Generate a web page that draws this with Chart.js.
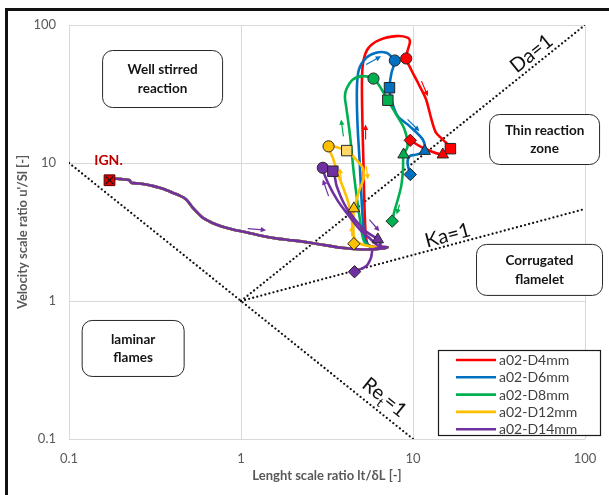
<!DOCTYPE html>
<html>
<head>
<meta charset="utf-8">
<title>Borghi diagram</title>
<script src="https://cdn.jsdelivr.net/npm/chart.js@4.4.1/dist/chart.umd.min.js"></script>
<style>
  body { margin: 0; background: #fff; }
  #wrap { position: relative; width: 609px; height: 495px; }
</style>
</head>
<body>
<div id="wrap"><canvas id="borghi"></canvas></div>
<script>
// ---- data -------------------------------------------------------------
const seriesNames = ['a02-D4mm', 'a02-D6mm', 'a02-D8mm', 'a02-D12mm', 'a02-D14mm'];
const tickValues = [0.1, 1, 10, 100];

// ignition point
const ignX = [0.172];
const ignY = [7.5];

// common early path, from ignition to the turning point
const trunkX = [0.172, 0.188, 0.205, 0.225, 0.23, 0.255, 0.281, 0.31, 0.336, 0.37, 0.401, 0.44, 0.48, 0.525,
  0.56, 0.6, 0.66, 0.718, 0.8, 0.896, 1.07, 1.4, 1.67, 2.0, 2.53, 3.2, 3.83, 4.6, 5.24, 6.2, 7.1];
const trunkY = [7.5, 7.68, 7.62, 7.5, 7.19, 7.1, 6.98, 6.8, 6.61, 6.35, 6.08, 5.8, 5.44, 4.73,
  4.35, 4.01, 3.75, 3.58, 3.42, 3.3, 3.15, 2.92, 2.82, 2.75, 2.64, 2.52, 2.43, 2.38, 2.36, 2.38, 2.45];

// later path of each kernel
const d4X = [5.8, 5.4, 5.25, 5.15, 5.08, 5.05, 5.15, 5.5, 6.4, 8.0, 9.3, 9.6, 9.3, 9.13, 9.74, 10.7, 11.9, 12.8, 13.6, 14.9, 16.5, 14.9, 11.4, 9.64];
const d4Y = [2.48, 2.65, 4, 10, 20, 40, 55, 68, 78, 83, 81, 76, 65, 57.2, 47.6, 38, 29, 20.7, 16.6, 14.8, 12.7, 11.5, 12.9, 14.6];
const d6X = [5.8, 5.3, 5.1, 4.9, 4.75, 4.72, 4.85, 5.34, 6.1, 7.0, 7.5, 7.84, 7.5, 7.3, 7.47, 8.16, 9.55, 11.4, 11.7, 10.4, 9.55, 9.3, 9.64];
const d6Y = [2.45, 2.7, 4, 10, 20, 35, 47.6, 57.8, 63, 63, 59, 55.3, 45, 35.1, 28.9, 21.8, 18.5, 14.8, 12.2, 11.5, 11.2, 10, 8.26];
const d8X = [5.8, 5.2, 4.9, 4.55, 4.3, 4.1, 4.02, 4.09, 4.47, 5.1, 5.89, 6.4, 7.14, 7.98, 8.93, 9.3, 8.81, 8.75, 8.54, 8.16, 7.8, 7.57];
const d8Y = [2.45, 2.7, 4.0, 8, 16, 25, 30, 34, 40.3, 42.6, 40.9, 36, 28.5, 22.5, 17.5, 13.2, 11.5, 9, 6.8, 5.44, 4.48, 3.79];
const d12X = [6.5, 5.5, 4.8, 4.5, 4.4, 4.2, 3.95, 3.7, 3.42, 3.23, 4.12, 4.57, 5.1, 5.17, 4.89, 4.67, 4.53, 4.5, 4.53];
const d12Y = [2.42, 2.5, 2.65, 3.0, 4.0, 5.2, 6.5, 8.0, 10.9, 13.2, 12.3, 10.9, 9.2, 7.8, 6.43, 5.29, 4.68, 3.5, 2.6];
const d14X = [6.3, 5.6, 4.9, 4.18, 3.66, 3.2, 2.99, 3.42, 3.6, 4.0, 4.6, 5.3, 6.24, 6.5, 6.3, 5.84, 5.7, 5.35, 4.57];
const d14Y = [2.52, 2.85, 3.3, 4.24, 5.29, 7.2, 9.23, 8.72, 6.8, 5.0, 3.9, 3.2, 2.79, 2.5, 2.42, 2.36, 2.06, 1.79, 1.63];

// time markers: circle, square, triangle, diamond
const d4MarkX = [9.13, 16.5, 14.9, 9.64];
const d4MarkY = [57.2, 12.7, 11.5, 14.6];
const d6MarkX = [7.84, 7.3, 11.7, 9.64];
const d6MarkY = [55.3, 35.1, 12.2, 8.26];
const d8MarkX = [5.89, 7.14, 8.81, 7.57];
const d8MarkY = [40.9, 28.5, 11.5, 3.79];
const d12MarkX = [3.23, 4.12, 4.53, 4.53];
const d12MarkY = [13.2, 12.3, 4.68, 2.6];
const d14MarkX = [2.99, 3.42, 6.24, 4.57];
const d14MarkY = [9.23, 8.72, 2.79, 1.63];

// regime borders Da=1, Ka=1, Re=1
const daX = [1, 100], daY = [1, 100];
const kaX = [1, 100], kaY = [1, 4.64];
const reX = [0.1, 10], reY = [10, 0.1];

// direction arrows (series index, start, end)
const arrowSeries = [4, 0, 2, 1, 0, 1, 2, 3, 3, 4, 4, 3];
const arrowFromX = [1.094, 5.3, 3.94, 5.34, 11.2, 9.3, 8.35, 3.86, 5.35, 3.23, 5.58, 4.4];
const arrowFromY = [3.35, 14.8, 15.6, 51.7, 39.2, 20.7, 5.0, 6.98, 9.48, 5.75, 3.89, 2.95];
const arrowToX = [1.4, 5.3, 3.82, 6.52, 12.2, 10.9, 8.03, 3.75, 5.47, 2.99, 6.38, 4.4];
const arrowToY = [3.26, 19.0, 20.7, 59.4, 30.5, 17.0, 4.24, 9.2, 7.6, 7.6, 3.2, 3.5];

// ---- styles -----------------------------------------------------------
const FONT = "Lato, 'Open Sans', sans-serif";
const seriesColors = ['#ff0000', '#0070c0', '#00b050', '#ffc000', '#7030a0'];
const markerStyles = ['circle', 'rect', 'triangle', 'rectRot'];
const markerRadius = [5.6, 7.4, 6.6, 6.2];

// regime boxes: anchor (data units) and size in px
const regimes = [
  { lines: ['Well stirred', 'reaction'], x: 0.35, y: 40.6, w: 120, h: 57 },
  { lines: ['Thin reaction', 'zone'], x: 58.2, y: 14.8, w: 110, h: 50 },
  { lines: ['Corrugated', 'flamelet'], x: 54.4, y: 1.68, w: 126, h: 51 },
  { lines: ['laminar', 'flames'], x: 0.236, y: 0.453, w: 102, h: 56 }
];

function pts(xs, ys) {
  return xs.map((x, i) => ({ x: x, y: ys[i] }));
}

function px(chart, x, y) {
  return [chart.scales.x.getPixelForValue(x), chart.scales.y.getPixelForValue(y)];
}

const tails = [[d4X, d4Y], [d6X, d6Y], [d8X, d8Y], [d12X, d12Y], [d14X, d14Y]];
const marks = [[d4MarkX, d4MarkY], [d6MarkX, d6MarkY], [d8MarkX, d8MarkY], [d12MarkX, d12MarkY], [d14MarkX, d14MarkY]];

const datasets = [];

// dotted regime borders
[[daX, daY], [kaX, kaY], [reX, reY]].forEach(([xs, ys]) => {
  datasets.push({
    data: pts(xs, ys),
    showLine: true,
    pointRadius: 0,
    borderColor: '#111',
    borderWidth: 2.3,
    borderDash: [0, 4.2],
    borderCapStyle: 'round',
    order: 20
  });
});

// trajectories, purple on top
tails.forEach(([xs, ys], i) => {
  datasets.push({
    label: seriesNames[i],
    data: pts(trunkX.concat(xs), trunkY.concat(ys)),
    showLine: true,
    pointRadius: 0,
    borderColor: seriesColors[i],
    borderWidth: 2.6,
    tension: 0.3,
    order: 10 - i
  });
});

// markers
marks.forEach(([xs, ys], i) => {
  const fills = markerStyles.map(() => seriesColors[i]);
  if (i === 3) fills[1] = '#ffd966';
  datasets.push({
    data: pts(xs, ys),
    showLine: false,
    pointStyle: markerStyles,
    pointRadius: markerRadius,
    pointBackgroundColor: fills,
    pointBorderColor: '#262626',
    pointBorderWidth: 1,
    order: 1
  });
});

// ignition marker
datasets.push({
  data: pts(ignX, ignY),
  pointStyle: 'rect',
  pointRadius: 7.6,
  pointBackgroundColor: '#e00000',
  pointBorderColor: '#5a0000',
  pointBorderWidth: 1,
  order: 0
});
datasets.push({
  data: pts(ignX, ignY),
  pointStyle: 'crossRot',
  pointRadius: 5.2,
  pointBorderColor: '#111',
  pointBorderWidth: 1.2,
  order: -1
});

// rounded boxes with regime names, and labels on the border lines
const regimeLabels = {
  id: 'regimeLabels',
  beforeDatasetsDraw(chart) {
    const ctx = chart.ctx;
    ctx.save();
    regimes.forEach(r => {
      const [cx, cy] = px(chart, r.x, r.y);
      const x0 = cx - r.w / 2, y0 = cy - r.h / 2, rad = 10;
      ctx.beginPath();
      ctx.moveTo(x0 + rad, y0);
      ctx.arcTo(x0 + r.w, y0, x0 + r.w, y0 + r.h, rad);
      ctx.arcTo(x0 + r.w, y0 + r.h, x0, y0 + r.h, rad);
      ctx.arcTo(x0, y0 + r.h, x0, y0, rad);
      ctx.arcTo(x0, y0, x0 + r.w, y0, rad);
      ctx.closePath();
      ctx.fillStyle = '#fff';
      ctx.fill();
      ctx.lineWidth = 1;
      ctx.strokeStyle = '#262626';
      ctx.stroke();
      ctx.fillStyle = '#141414';
      ctx.font = 'bold 13.5px ' + FONT;
      ctx.textAlign = 'center';
      ctx.textBaseline = 'middle';
      r.lines.forEach((t, k) => ctx.fillText(t, cx, cy + (k - (r.lines.length - 1) / 2) * 18.5));
    });

    // line names, rotated along each line
    const slope = (xs, ys) => {
      const [ax, ay] = px(chart, xs[0], ys[0]);
      const [bx, by] = px(chart, xs[1], ys[1]);
      return Math.atan2(by - ay, bx - ax);
    };
    ctx.fillStyle = '#111';
    ctx.font = '20px ' + FONT;

    let [lx, ly] = px(chart, 48.9, 62.1);
    ctx.save();
    ctx.translate(lx, ly);
    ctx.rotate(slope(daX, daY));
    ctx.fillText('Da=1', 0, 0);
    ctx.restore();

    [lx, ly] = px(chart, 15.9, 2.98);
    ctx.save();
    ctx.translate(lx, ly);
    ctx.rotate(slope(kaX, kaY));
    ctx.fillText('Ka=1', 0, 0);
    ctx.restore();

    [lx, ly] = px(chart, 6.83, 0.2);
    ctx.save();
    ctx.translate(lx, ly);
    ctx.rotate(slope(reX, reY));
    ctx.textAlign = 'left';
    const wRe = ctx.measureText('Re').width;
    ctx.font = '13px ' + FONT;
    const wT = ctx.measureText('t').width;
    ctx.font = '20px ' + FONT;
    const wEq = ctx.measureText('=1').width;
    let sx = -(wRe + wT + wEq) / 2;
    ctx.fillText('Re', sx, 0);
    sx += wRe;
    ctx.font = '13px ' + FONT;
    ctx.fillText('t', sx, 7);
    sx += wT;
    ctx.font = '20px ' + FONT;
    ctx.fillText('=1', sx, 0);
    ctx.restore();

    ctx.restore();
  }
};

// small direction arrows next to the trajectories, and the ignition tag
const flowArrows = {
  id: 'flowArrows',
  afterDatasetsDraw(chart) {
    const ctx = chart.ctx;
    ctx.save();
    arrowFromX.forEach((_, i) => {
      const [x0, y0] = px(chart, arrowFromX[i], arrowFromY[i]);
      const [x1, y1] = px(chart, arrowToX[i], arrowToY[i]);
      const a = Math.atan2(y1 - y0, x1 - x0);
      ctx.strokeStyle = seriesColors[arrowSeries[i]];
      ctx.fillStyle = seriesColors[arrowSeries[i]];
      ctx.lineWidth = 1.2;
      ctx.beginPath();
      ctx.moveTo(x0, y0);
      ctx.lineTo(x1 - 3 * Math.cos(a), y1 - 3 * Math.sin(a));
      ctx.stroke();
      ctx.beginPath();
      ctx.moveTo(x1, y1);
      ctx.lineTo(x1 - 6 * Math.cos(a - 0.45), y1 - 6 * Math.sin(a - 0.45));
      ctx.lineTo(x1 - 6 * Math.cos(a + 0.45), y1 - 6 * Math.sin(a + 0.45));
      ctx.closePath();
      ctx.fill();
    });

    const [ix, iy] = px(chart, ignX[0], ignY[0]);
    ctx.fillStyle = '#c00000';
    ctx.font = 'bold 14px ' + FONT;
    ctx.textAlign = 'center';
    ctx.textBaseline = 'middle';
    ctx.fillText('IGN.', ix - 1, iy - 20);
    ctx.restore();
  }
};

// boxed legend in the lower right corner, plus the outer frame
const boxLegend = {
  id: 'boxLegend',
  afterDraw(chart) {
    const ctx = chart.ctx;
    const area = chart.chartArea;
    const w = 162, h = 85;
    const x0 = area.right - 147, y0 = area.bottom - 89;
    ctx.save();
    ctx.fillStyle = '#fff';
    ctx.fillRect(x0, y0, w, h);
    ctx.strokeStyle = '#1a1a1a';
    ctx.lineWidth = 1.2;
    ctx.strokeRect(x0 + 0.5, y0 + 0.5, w, h);
    ctx.font = '14px ' + FONT;
    ctx.textAlign = 'left';
    ctx.textBaseline = 'middle';
    seriesNames.forEach((name, i) => {
      const y = y0 + 10 + i * 17.3;
      ctx.strokeStyle = seriesColors[i];
      ctx.lineWidth = 2.6;
      ctx.beginPath();
      ctx.moveTo(x0 + 18, y);
      ctx.lineTo(x0 + 58, y);
      ctx.stroke();
      ctx.fillStyle = '#404040';
      ctx.fillText(name, x0 + 61, y + 0.5);
    });

    ctx.fillStyle = '#111';
    ctx.fillRect(5, 8, 3, chart.height);
    ctx.fillRect(5, 8, chart.width, 3);
    ctx.restore();
  }
};

Chart.defaults.font.family = FONT;

new Chart(document.getElementById('borghi'), {
  type: 'scatter',
  data: { datasets: datasets },
  options: {
    responsive: true,
    maintainAspectRatio: false,
    animation: false,
    layout: { padding: { top: 25, right: 24, left: 0, bottom: 0 } },
    plugins: {
      legend: { display: false },
      tooltip: { enabled: false }
    },
    scales: {
      x: {
        type: 'logarithmic',
        min: 0.1,
        max: 100,
        afterBuildTicks: s => { s.ticks = tickValues.map(v => ({ value: v })); },
        afterFit: s => { s.height = 56; },
        grid: { color: '#d9d9d9', lineWidth: 1, drawTicks: false },
        border: { display: false },
        ticks: { color: '#595959', font: { size: 13 }, padding: 12, maxRotation: 0, callback: v => String(v) },
        title: {
          display: true,
          text: 'Lenght scale ratio lt/δL [-]',
          color: '#595959',
          font: { size: 13, weight: 'bold' },
          padding: { top: 0, bottom: 11 }
        }
      },
      y: {
        type: 'logarithmic',
        min: 0.1,
        max: 100,
        afterBuildTicks: s => { s.ticks = tickValues.map(v => ({ value: v })); },
        afterFit: s => { s.width = 69; },
        grid: { color: '#d9d9d9', lineWidth: 1, drawTicks: false },
        border: { display: false },
        ticks: { color: '#595959', font: { size: 13 }, padding: 13, callback: v => String(v) },
        title: {
          display: true,
          text: "Velocity scale ratio u'/Sl [-]",
          color: '#595959',
          font: { size: 13, weight: 'bold' },
          padding: { top: 15, bottom: 0 }
        }
      }
    }
  },
  plugins: [regimeLabels, flowArrows, boxLegend]
});
</script>
</body>
</html>
